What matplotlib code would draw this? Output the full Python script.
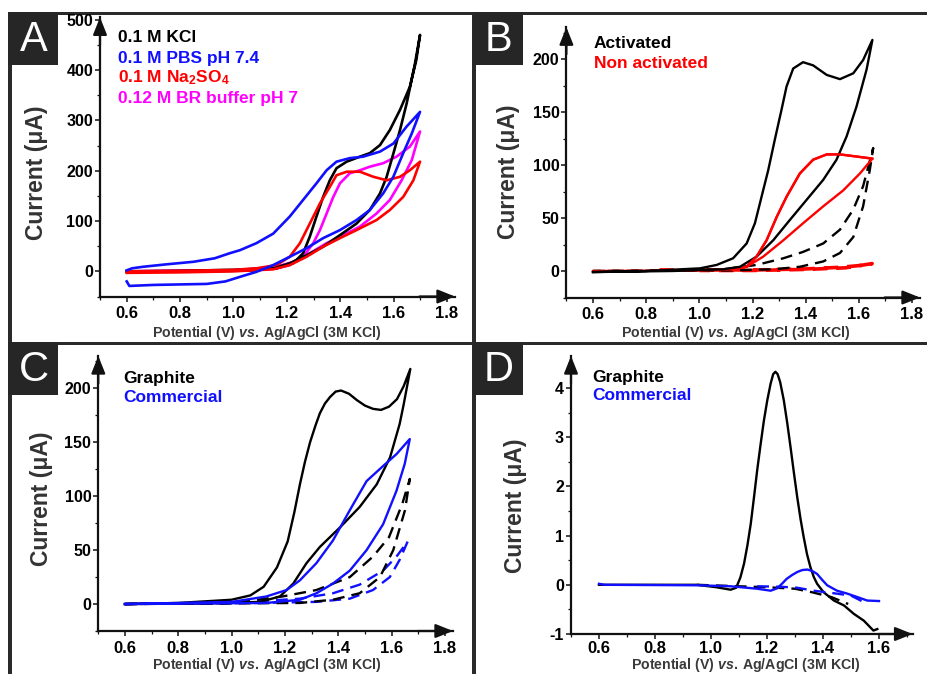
import matplotlib
matplotlib.use("Agg")
import matplotlib.pyplot as plt
from matplotlib.patches import Rectangle
from matplotlib.ticker import MultipleLocator

plt.rcParams['font.family'] = ['Liberation Sans', 'DejaVu Sans']
plt.rcParams['font.weight'] = 'bold'
plt.rcParams['mathtext.fontset'] = 'custom'
plt.rcParams['mathtext.rm'] = 'Liberation Sans:bold'
plt.rcParams['mathtext.bf'] = 'Liberation Sans:bold'
plt.rcParams['mathtext.it'] = 'Liberation Sans:italic:bold'
plt.rcParams['lines.solid_joinstyle'] = 'round'
plt.rcParams['lines.dash_joinstyle'] = 'round'

# ---------------- Panel A data (uA) ----------------
a_kcl_v = [0.60, 0.80, 1.00, 1.10, 1.161, 1.224, 1.261, 1.286, 1.311, 1.336, 1.361, 1.386, 1.424, 1.474, 1.511, 1.549,
           1.586, 1.624, 1.661, 1.685, 1.699,
           1.68, 1.649, 1.624, 1.599, 1.574, 1.549, 1.511, 1.461, 1.399, 1.336, 1.274, 1.211, 1.149, 1.08, 0.90, 0.60]
a_kcl_i = [0, 1, 3, 5, 6, 16, 36, 69, 109, 148, 181, 205, 218, 228, 235, 251,
           281, 321, 367, 420, 470,
           413, 334, 281, 234, 188, 155, 122, 95, 72, 49, 32, 16, 6, 2, 0, 0]
a_pbs_v = [0.60, 0.62, 0.66, 0.75, 0.85, 0.93, 0.986, 1.024, 1.086, 1.149, 1.211, 1.261, 1.311, 1.349, 1.386, 1.436,
           1.486, 1.549, 1.599, 1.649, 1.699,
           1.668, 1.636, 1.599, 1.561, 1.511, 1.461, 1.399, 1.336, 1.274, 1.211, 1.149, 1.086, 1.024, 0.97, 0.90,
           0.80, 0.70, 0.61, 0.60]
a_pbs_i = [2, 6, 9, 14, 19, 26, 36, 42, 56, 75, 109, 142, 175, 201, 218, 225,
           228, 238, 254, 288, 317,
           274, 235, 188, 155, 122, 102, 82, 66, 46, 29, 12.5, -1, -11, -20, -25,
           -26, -27, -29, -20]
a_na_v = [0.60, 0.80, 1.00, 1.086, 1.161, 1.211, 1.249, 1.286, 1.324, 1.361, 1.386, 1.424, 1.474, 1.524, 1.574, 1.624,
          1.661, 1.699,
          1.674, 1.636, 1.586, 1.536, 1.461, 1.399, 1.336, 1.274, 1.211, 1.149, 1.00, 0.80, 0.60]
a_na_i = [0, 1, 3, 6, 12.5, 29, 56, 95, 135, 168, 191, 198, 198, 188, 181, 188,
          201, 218,
          181, 148, 122, 102, 82, 66, 49, 29, 12.5, 4, 0, -2, -3]
a_br_v = [0.60, 0.90, 1.10, 1.161, 1.211, 1.261, 1.299, 1.324, 1.349, 1.374, 1.399, 1.436, 1.474, 1.511, 1.561, 1.611,
          1.661, 1.699,
          1.668, 1.63, 1.586, 1.536, 1.474, 1.411, 1.349, 1.286, 1.224, 1.161, 1.00, 0.60]
a_br_i = [0, 1, 3, 6, 12.5, 29, 56, 82, 115, 148, 175, 195, 201, 208, 215, 228,
          248, 278,
          221, 181, 142, 115, 89, 72, 56, 36, 19, 9, 2, 0]

# ---------------- Panel B data ----------------
b_act_v = [0.60, 0.80, 1.002, 1.065, 1.127, 1.178, 1.209, 1.234, 1.259, 1.284, 1.309, 1.328, 1.353, 1.39, 1.428, 1.479,
           1.529, 1.579, 1.616, 1.651,
           1.629, 1.591, 1.554, 1.516, 1.466, 1.403, 1.34, 1.278, 1.215, 1.153, 1.09, 0.90, 0.60]
b_act_i = [-1, 0, 2.5, 5.7, 12, 26, 45, 70, 95, 124, 152, 174, 191, 197, 194, 185,
           181, 186.5, 199, 218,
           190, 155, 127, 105, 86, 67, 48, 29, 13.5, 4, 1.6, 0, -1]
b_actblank_v = [0.60, 0.90, 1.09, 1.215, 1.316, 1.39, 1.466, 1.529, 1.579, 1.616, 1.654,
                1.641, 1.616, 1.579, 1.529, 1.466, 1.378, 1.278, 1.10, 0.60]
b_actblank_i = [0, 0.5, 1.6, 5.7, 12, 18, 26, 39, 58, 80, 116,
                95, 61, 32, 17, 9, 4, 1.6, 0.5, 0]
b_non_v = [0.60, 1.00, 1.127, 1.178, 1.215, 1.253, 1.291, 1.328, 1.378, 1.428, 1.479, 1.529, 1.591, 1.651,
           1.604, 1.541, 1.466, 1.39, 1.316, 1.24, 1.178, 1.127]
b_non_i = [0, 0.5, 1.6, 4, 13.5, 29, 51, 70, 92, 105, 110, 110, 108, 106,
           92, 76, 61, 45, 29, 13.5, 4, 1.6]
b_nonblank_v = [0.85, 1.00, 1.215, 1.403, 1.529, 1.629, 1.65, 1.55, 1.40, 1.20, 1.00]
b_nonblank_i = [1, 1, 1, 2, 3.5, 5.7, 7, 3, 1.5, 0.5, 0.5]

# ---------------- Panel C data ----------------
c_gra_v = [0.60, 0.80, 1.00, 1.07, 1.12, 1.17, 1.21, 1.235, 1.256, 1.275, 1.294, 1.315, 1.331, 1.35, 1.369, 1.39,
           1.41, 1.44, 1.47, 1.50, 1.53, 1.56, 1.59, 1.62, 1.645, 1.67,
           1.645, 1.63, 1.594, 1.544, 1.48, 1.406, 1.331, 1.281, 1.231, 1.181, 1.106, 0.90, 0.60]
c_gra_i = [0, 1, 4, 8, 16, 34, 58, 85, 111, 132, 150, 166, 177, 186, 192, 197,
           198, 195, 189, 184, 181, 180, 183, 190, 202, 218,
           185, 167, 136, 111, 90, 71, 53, 38, 19, 7, 2, 0.5, 0]
c_com_v = [0.60, 1.00, 1.13, 1.206, 1.256, 1.318, 1.38, 1.443, 1.506, 1.568, 1.618, 1.668,
           1.649, 1.618, 1.568, 1.506, 1.443, 1.38, 1.318, 1.256, 1.13, 0.60]
c_com_i = [0, 2, 7, 13, 22, 38, 59, 87, 114, 128, 139, 153,
           130, 105, 74, 50, 31, 19, 10, 4, 1, 0]
c_grablank_v = [0.60, 1.00, 1.19, 1.318, 1.443, 1.53, 1.59, 1.64, 1.668,
                1.65, 1.606, 1.556, 1.48, 1.38, 1.256, 0.60]
c_grablank_i = [0, 1, 7, 13, 25, 44, 62, 93, 116,
                87, 50, 25, 10, 4, 1, 0]
c_comblank_v = [0.60, 1.00, 1.256, 1.38, 1.48, 1.568, 1.618, 1.66,
                1.63, 1.593, 1.53, 1.443, 1.318, 1.10, 0.60]
c_comblank_i = [0, 1, 5, 10, 18, 31, 44, 58,
                41, 25, 13, 5, 2, 1, 0]

# ---------------- Panel D data (DPV) ----------------
d_gra_v = [0.60, 0.80, 0.95, 1.02, 1.07, 1.09, 1.105, 1.118, 1.13, 1.142, 1.154, 1.165, 1.177, 1.189, 1.201, 1.213,
           1.222, 1.23, 1.238, 1.247, 1.26, 1.272, 1.284, 1.296, 1.308, 1.32, 1.331, 1.343, 1.355, 1.367, 1.379,
           1.402, 1.439, 1.475, 1.51, 1.546, 1.58, 1.594]
d_gra_i = [0, 0, 0, -0.05, -0.1, -0.06, 0.15, 0.43, 0.8, 1.24, 1.8, 2.33, 2.85, 3.34, 3.75, 4.09,
           4.28, 4.33, 4.28, 4.12, 3.75, 3.3, 2.8, 2.28, 1.78, 1.33, 0.97, 0.62, 0.36, 0.16, 0.02,
           -0.15, -0.32, -0.42, -0.59, -0.73, -0.93, -0.9]
d_grablank_v = [0.95, 1.10, 1.20, 1.30, 1.36, 1.43, 1.49]
d_grablank_i = [0, -0.03, -0.05, -0.08, -0.15, -0.25, -0.39]
d_com_v = [0.60, 0.62, 0.95, 1.07, 1.165, 1.213, 1.237, 1.255, 1.27, 1.29, 1.308, 1.326, 1.344, 1.362, 1.379,
           1.397, 1.415, 1.45, 1.487, 1.523, 1.558, 1.60]
d_com_i = [0.02, 0.0, -0.01, -0.03, -0.08, -0.12, -0.07, 0.03, 0.12, 0.2, 0.26, 0.3, 0.31, 0.28, 0.22,
           0.1, -0.01, -0.12, -0.18, -0.25, -0.32, -0.33]
d_comblank_v = [1.165, 1.25, 1.308, 1.367, 1.45, 1.50, 1.545]
d_comblank_i = [-0.03, -0.04, -0.06, -0.12, -0.18, -0.22, -0.35]

W, H = 928, 674
fig = plt.figure(figsize=(W / 100, H / 100), dpi=100)

BLUE = '#1010ff'
RED = '#ff0000'
MAG = '#ff00ff'
FRAME = '#2a2a2a'


def px_rect(x0, y0, x1, y1, color):
    fig.add_artist(Rectangle((x0 / W, 1 - y1 / H), (x1 - x0) / W, (y1 - y0) / H,
                             transform=fig.transFigure, color=color, lw=0, zorder=0))


def make_ax(x0, x1, y0, y1, xlim, ylim, xmaj, ymaj, ymin, xpad=3.5):
    ax = fig.add_axes([x0 / W, 1 - y0 / H, (x1 - x0) / W, (y0 - y1) / H])
    ax.set_xlim(*xlim)
    ax.set_ylim(*ylim)
    ax.patch.set_alpha(0)
    for s in ('top', 'right'):
        ax.spines[s].set_visible(False)
    for s in ('left', 'bottom'):
        ax.spines[s].set_linewidth(1.6)
        ax.spines[s].set_color('#111111')
    ax.xaxis.set_major_locator(MultipleLocator(xmaj))
    ax.xaxis.set_minor_locator(MultipleLocator(xmaj / 2))
    ax.yaxis.set_major_locator(MultipleLocator(ymaj))
    ax.yaxis.set_minor_locator(MultipleLocator(ymin))
    ax.tick_params(axis='both', which='major', direction='out', length=3.5, width=1.1, color='#111111')
    ax.tick_params(axis='both', which='minor', direction='out', length=2, width=0.9, color='#111111')
    ax.tick_params(axis='x', labelsize=12, pad=xpad)
    ax.tick_params(axis='y', labelsize=11.5, pad=1.5)
    ap = dict(arrowstyle='-|>,head_length=0.75,head_width=0.3', color='#111111', lw=1.6,
              shrinkA=0, shrinkB=0, mutation_scale=14)
    ax.annotate('', xy=(1.0, 0), xytext=(0.9, 0), xycoords='axes fraction', arrowprops=ap, annotation_clip=False)
    ax.annotate('', xy=(0, 1.0), xytext=(0, 0.9), xycoords='axes fraction', arrowprops=ap, annotation_clip=False)
    return ax


def fmt_ticks(ax, xt, yt, xfmt='{:.1f}', yfmt='{:d}'):
    ax.set_xticks(xt)
    ax.set_xticklabels([xfmt.format(v) for v in xt], fontweight='bold', fontsize=12)
    ax.set_yticks(yt)
    ax.set_yticklabels([yfmt.format(v) for v in yt], fontweight='bold', fontsize=11.5)


XLAB = r"$\mathbf{Potential\ (V)\ }\mathit{vs.}\mathbf{\,Ag/AgCl\ (3M\ KCl)}$"
xticks_cv = [0.6, 0.8, 1.0, 1.2, 1.4, 1.6, 1.8]

# ---- frame lines and letter boxes ----
px_rect(8, 12, 928, 15, FRAME)
px_rect(8, 12, 12, 674, FRAME)
px_rect(472, 12, 476, 674, FRAME)
px_rect(8, 342, 928, 345, FRAME)
for (bx, by, letter) in [(8, 12, 'A'), (473, 12, 'B'), (8, 342, 'C'), (473, 342, 'D')]:
    px_rect(bx, by, bx + 50, by + 53, '#262626')
    fig.text((bx + 26) / W, 1 - (by + 28) / H, letter, color='white', fontsize=30,
             fontweight='normal', ha='center', va='center')

# ---------------- Panel A ----------------
axA = make_ax(100, 455, 296.5, 17.3, (0.5, 1.83), (-50, 505), 0.2, 100, 50)
fmt_ticks(axA, xticks_cv, [0, 100, 200, 300, 400, 500])
lw = 1.9
axA.plot(a_br_v, a_br_i, color=MAG, lw=lw)
axA.plot(a_kcl_v, a_kcl_i, color='black', lw=lw)
axA.plot(a_na_v, a_na_i, color=RED, lw=lw)
axA.plot(a_pbs_v, a_pbs_i, color=BLUE, lw=lw)
legA = [('0.1 M KCl', 'black'), ('0.1 M PBS pH 7.4', BLUE),
        ('0.1 M Na$_\\mathregular{2}$SO$_\\mathregular{4}$', RED), ('0.12 M BR buffer pH 7', MAG)]
for k, (t, c) in enumerate(legA):
    fig.text(118 / W, 1 - (38 + 20 * k) / H, t, color=c, fontsize=12.5, fontweight='bold', va='center', ha='left')

# ---------------- Panel B ----------------
axB = make_ax(566.4, 920, 297.5, 27.2, (0.5, 1.83), (-25, 230), 0.2, 50, 25)
fmt_ticks(axB, xticks_cv, [0, 50, 100, 150, 200])
axB.plot(b_nonblank_v, b_nonblank_i, color=RED, lw=2.6, dashes=(4, 2.5))
axB.plot(b_actblank_v, b_actblank_i, color='black', lw=1.7, dashes=(5, 3))
axB.plot(b_non_v, b_non_i, color=RED, lw=1.7)
axB.plot(b_act_v, b_act_i, color='black', lw=1.7)
axB.plot(b_non_v[3:14], b_non_i[3:14], color=RED, lw=1.7)
for k, (t, c) in enumerate([('Activated', 'black'), ('Non activated', RED)]):
    fig.text(594 / W, 1 - (44 + 20 * k) / H, t, color=c, fontsize=12.5, fontweight='bold', va='center', ha='left')

# ---------------- Panel C ----------------
axC = make_ax(98.3, 453, 631, 356, (0.5, 1.83), (-25, 230), 0.2, 50, 25)
fmt_ticks(axC, xticks_cv, [0, 50, 100, 150, 200])
axC.plot(c_comblank_v, c_comblank_i, color=BLUE, lw=1.7, dashes=(5, 3))
axC.plot(c_grablank_v, c_grablank_i, color='black', lw=1.7, dashes=(5, 3))
axC.plot(c_gra_v, c_gra_i, color='black', lw=1.7)
axC.plot(c_com_v, c_com_i, color=BLUE, lw=1.7)
for k, (t, c) in enumerate([('Graphite', 'black'), ('Commercial', BLUE)]):
    fig.text(123 / W, 1 - (379 + 19 * k) / H, t, color=c, fontsize=12.5, fontweight='bold', va='center', ha='left')

# ---------------- Panel D ----------------
axD = make_ax(571, 912.6, 634, 356, (0.5, 1.72), (-1, 4.65), 0.2, 1, 0.5, xpad=1.5)
fmt_ticks(axD, [0.6, 0.8, 1.0, 1.2, 1.4, 1.6], [-1, 0, 1, 2, 3, 4])
axD.plot(d_grablank_v, d_grablank_i, color='black', lw=1.7, dashes=(5, 3))
axD.plot(d_gra_v, d_gra_i, color='black', lw=1.7)
axD.plot(d_comblank_v, d_comblank_i, color=BLUE, lw=1.7, dashes=(5, 3))
axD.plot(d_com_v, d_com_i, color=BLUE, lw=1.7)
for k, (t, c) in enumerate([('Graphite', 'black'), ('Commercial', BLUE)]):
    fig.text(592 / W, 1 - (377 + 19 * k) / H, t, color=c, fontsize=12.5, fontweight='bold', va='center', ha='left')

# ---------------- axis labels ----------------
for (cx, cy) in [(267, 333), (736, 333), (267, 665), (746, 665.5)]:
    fig.text(cx / W, 1 - cy / H, XLAB, color='#3a3a3a', fontsize=10.2, ha='center', va='center')
for (cx, cy) in [(37, 173), (509, 172), (42, 499), (516, 506)]:
    fig.text(cx / W, 1 - cy / H, 'Current (μA)', color='#333333', fontsize=16.5, fontweight='bold',
             rotation=90, ha='center', va='center')

fig.savefig('out.png', dpi=100, facecolor='white')
